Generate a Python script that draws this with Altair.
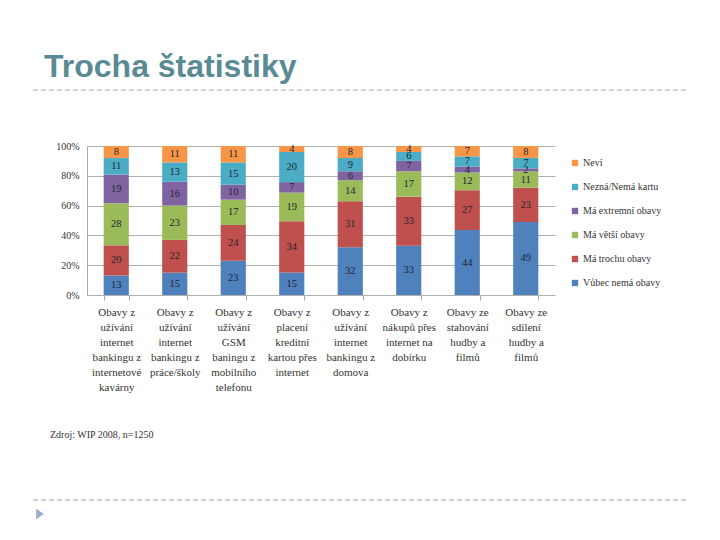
import altair as alt
import pandas as pd

categories = [
    "Obavy z\nužívání\ninternet\nbankingu z\ninternetové\nkavárny",
    "Obavy z\nužívání\ninternet\nbankingu z\npráce/školy",
    "Obavy z\nužívání\nGSM\nbaningu z\nmobilního\ntelefonu",
    "Obavy z\nplacení\nkreditní\nkartou přes\ninternet",
    "Obavy z\nužívání\ninternet\nbankingu z\ndomova",
    "Obavy z\nnákupů přes\ninternet na\ndobírku",
    "Obavy ze\nstahování\nhudby a\nfilmů",
    "Obavy ze\nsdílení\nhudby a\nfilmů",
]
series = ["Vůbec nemá obavy", "Má trochu obavy", "Má větší obavy",
          "Má extremní obavy", "Nezná/Nemá kartu", "Neví"]
vubec = [13, 15, 23, 15, 32, 33, 44, 49]
trochu = [20, 22, 24, 34, 31, 33, 27, 23]
vetsi = [28, 23, 17, 19, 14, 17, 12, 11]
extremni = [19, 16, 10, 7, 6, 7, 4, 2]
nezna = [11, 13, 15, 20, 9, 6, 7, 7]
nevi = [8, 11, 11, 4, 8, 4, 7, 8]
values = [vubec, trochu, vetsi, extremni, nezna, nevi]
colors = ["#4F81BD", "#C0504D", "#9BBB59", "#8064A2", "#4BACC6", "#F79646"]
y_ticks = [0, 0.2, 0.4, 0.6, 0.8, 1.0]

legend_order = series[::-1]
legend_colors = colors[::-1]

rows = []
for i, c in enumerate(categories):
    for j, s in enumerate(series):
        rows.append({"cat": c, "series": s, "order": j, "value": values[j][i]})
df = pd.DataFrame(rows)

serif = "Liberation Serif, Times New Roman, serif"

base = alt.Chart(df).transform_stack(
    stack="value", groupby=["cat"], as_=["v0", "v1"], offset="normalize",
    sort=[alt.SortField("order", order="ascending")]
).transform_calculate(mid="(datum.v0 + datum.v1) / 2")

x_axis = alt.Axis(title=None, labelAngle=0, labelExpr="split(datum.label, '\\n')",
                  labelFont=serif, labelFontSize=11, labelColor="#333333",
                  labelLineHeight=15, labelPadding=6, labelBaseline="top",
                  domain=False, tickBand="extent", ticks=True, tickSize=5,
                  tickColor="#AAAAAA", grid=False, labelOverlap=False)
x_scale = alt.Scale(paddingInner=0.57, paddingOuter=0.285)
y_axis = alt.Axis(title=None, format="%", values=y_ticks,
                  labelFont=serif, labelFontSize=10, labelColor="#333333",
                  ticks=False, labelPadding=8, domain=True, domainColor="#AAAAAA",
                  grid=True, gridColor="#B0B0B0", labelOverlap=False,
                  labelFlush=False)
y_scale = alt.Scale(domain=[0, 1], nice=False)

bars = base.mark_bar().encode(
    x=alt.X("cat:N", sort=categories, scale=x_scale, axis=x_axis),
    y=alt.Y("v0:Q", scale=y_scale, axis=y_axis),
    y2="v1:Q",
    color=alt.Color("series:N", scale=alt.Scale(domain=legend_order, range=legend_colors),
                    legend=alt.Legend(title=None, orient="none", legendX=483, legendY=12,
                                      symbolType="square", symbolSize=40, symbolStrokeWidth=0,
                                      labelFont=serif, labelFontSize=10, labelColor="#333333",
                                      rowPadding=14, labelOffset=3)),
    order=alt.Order("order:Q"),
)

labels = base.mark_text(font=serif, fontSize=10.5, color="#1F2535").encode(
    x=alt.X("cat:N", sort=categories, scale=x_scale, axis=x_axis),
    y=alt.Y("mid:Q", scale=y_scale, axis=y_axis),
    text=alt.Text("value:Q"),
)

one = alt.Data(values=[{}])
title = alt.Chart(one).mark_text(font="Liberation Sans, Arial, sans-serif", fontSize=32,
                                 fontWeight="bold", color="#5A8A94",
                                 align="left", baseline="alphabetic").encode(
    x=alt.value(-43), y=alt.value(-69), text=alt.value("Trocha štatistiky"))
top_line = alt.Chart(one).mark_rule(color="#AAAAAA", strokeDash=[5, 3], strokeWidth=1).encode(
    x=alt.value(-54), x2=alt.value(601), y=alt.value(-56))
bottom_line = alt.Chart(one).mark_rule(color="#AAAAAA", strokeDash=[5, 3], strokeWidth=1).encode(
    x=alt.value(-54), x2=alt.value(601), y=alt.value(354))
tri = alt.Chart(one).mark_point(shape="M-0.7,-1L0.7,0L-0.7,1Z", filled=True, opacity=1,
                                color="#9CB0CC", size=120).encode(
    x=alt.value(-47), y=alt.value(368))
source = alt.Chart(one).mark_text(font=serif, fontSize=10, color="#333333",
                                  align="left", baseline="middle").encode(
    x=alt.value(-37), y=alt.value(289), text=alt.value("Zdroj: WIP 2008, n=1250"))

chart = alt.layer(bars, labels, title, top_line, bottom_line, tri, source).properties(
    width=468, height=149,
    autosize=alt.AutoSizeParams(type="none"),
    padding={"left": 79, "top": 138, "right": 157, "bottom": 237},
).configure_view(stroke=None)

chart.save("out.html", embed_options={"renderer": "svg", "actions": False})
